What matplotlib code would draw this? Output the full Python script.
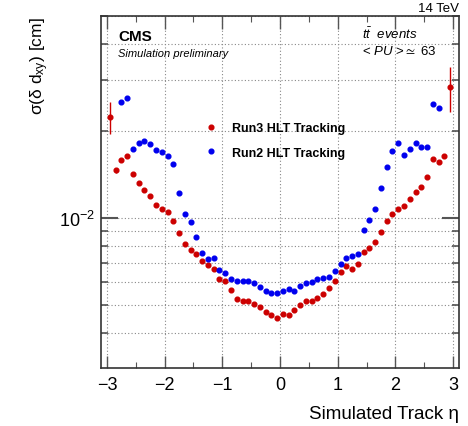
"""
Track transverse impact parameter resolution vs simulated eta,
Run3 vs Run2 HLT tracking (CMS simulation, ttbar, <PU> ~ 63).
"""

import numpy as np
import matplotlib
matplotlib.use("Agg")
import matplotlib.pyplot as plt
from matplotlib.lines import Line2D
from matplotlib.ticker import FixedLocator, MultipleLocator, NullFormatter, LogLocator

plt.rcParams["font.family"] = ["Liberation Sans", "DejaVu Sans"]
plt.rcParams["mathtext.fontset"] = "custom"
plt.rcParams["mathtext.rm"] = "Liberation Sans"
plt.rcParams["mathtext.it"] = "Liberation Sans:italic"
plt.rcParams["mathtext.bf"] = "Liberation Sans:bold"
plt.rcParams["mathtext.fallback"] = "stixsans"

# bin centres in eta (bin width 0.1)
eta = [-2.95, -2.85, -2.75, -2.65, -2.55, -2.45, -2.35, -2.25, -2.15, -2.05,
       -1.95, -1.85, -1.75, -1.65, -1.55, -1.45, -1.35, -1.25, -1.15, -1.05,
       -0.95, -0.85, -0.75, -0.65, -0.55, -0.45, -0.35, -0.25, -0.15, -0.05,
       0.05, 0.15, 0.25, 0.35, 0.45, 0.55, 0.65, 0.75, 0.85, 0.95,
       1.05, 1.15, 1.25, 1.35, 1.45, 1.55, 1.65, 1.75, 1.85, 1.95,
       2.05, 2.15, 2.25, 2.35, 2.45, 2.55, 2.65, 2.75, 2.85, 2.95]

# sigma(delta d_xy) [cm]
run3 = [0.0224, 0.01466, 0.01588, 0.01639, 0.01416, 0.01318, 0.01247, 0.01195, 0.01112, 0.01074,
        0.01046, 0.00974, 0.00890, 0.00815, 0.00775, 0.00749, 0.00712, 0.00686, 0.00666, 0.00614,
        0.00604, 0.00562, 0.00525, 0.00518, 0.00515, 0.00504, 0.00493, 0.00474, 0.00463, 0.00451,
        0.00466, 0.00463, 0.00479, 0.00500, 0.00518, 0.00515, 0.00529, 0.00545, 0.00573, 0.00604,
        0.00649, 0.00684, 0.00665, 0.00695, 0.00761, 0.00786, 0.00824, 0.00895, 0.00976, 0.01032,
        0.01074, 0.01103, 0.01166, 0.01227, 0.01284, 0.01382, 0.01604, 0.01566, 0.01639, 0.0283]
run3_err = [0.0029, 0.0003, 0, 0, 0, 0, 0, 0, 0, 0,
            0, 0, 0, 0, 0, 0, 0, 0, 0, 0,
            0, 0, 0, 0, 0, 0, 0, 0, 0, 0,
            0, 0, 0, 0, 0, 0, 0, 0, 0, 0,
            0, 0, 0, 0, 0, 0, 0, 0, 0, 0,
            0, 0, 0, 0, 0, 0, 0, 0, 0.0003, 0.0051]

run2 = [np.nan, np.nan, 0.02527, 0.02601, 0.01737, 0.01822, 0.01851, 0.01803, 0.01723, 0.01697,
        0.01639, 0.01538, 0.01224, 0.01035, 0.00966, 0.00857, 0.00755, 0.00723, 0.00725, 0.00661,
        0.00647, 0.00618, 0.00607, 0.00607, 0.00607, 0.00596, 0.00577, 0.00559, 0.00550, 0.00551,
        0.00558, 0.00567, 0.00561, 0.00580, 0.00596, 0.00602, 0.00618, 0.00621, 0.00625, 0.00656,
        0.00695, 0.00727, 0.00741, 0.00751, 0.00906, 0.00984, 0.01074, 0.01267, 0.01505, 0.01710,
        0.01822, 0.01652, 0.01737, 0.01813, 0.01760, 0.01760, 0.02487, 0.02397, np.nan, np.nan]
run2_err = [0, 0, 0, 0, 0, 0, 0, 0, 0, 0,
            0, 0, 0, 0, 0, 0, 0, 0, 0, 0,
            0, 0, 0, 0, 0, 0, 0, 0, 0, 0,
            0, 0, 0, 0, 0, 0, 0, 0, 0, 0,
            0, 0, 0, 0, 0, 0, 0, 0, 0, 0,
            0, 0, 0, 0, 0, 0, 0, 0.0004, 0, 0]

x_ticks = [-3, -2, -1, 0, 1, 2, 3]
x_tick_labels = ["\u22123", "\u22122", "\u22121", "0", "1", "2", "3"]

RED = "#cc0000"
BLUE = "#0000ee"
W, H = 468, 427

fig = plt.figure(figsize=(W / 100, H / 100), dpi=100)
ax = fig.add_axes([101 / W, 1 - 369 / H, 358 / W, 352 / H])

ax.errorbar(eta, run3, yerr=run3_err, fmt="o", ms=3.4, color=RED,
            ecolor=RED, elinewidth=1.0, capsize=0, zorder=3)
ax.errorbar(eta, run2, yerr=run2_err, fmt="o", ms=3.4, color=BLUE,
            ecolor=BLUE, elinewidth=1.0, capsize=0, zorder=3)

ax.set_yscale("log")
ax.set_xlim(-3.104, 3.104)
ax.set_ylim(3.03e-3, 5.0e-2)

ax.xaxis.set_major_locator(FixedLocator(x_ticks))
ax.set_xticklabels(x_tick_labels)
ax.xaxis.set_minor_locator(MultipleLocator(0.5))
ax.yaxis.set_major_locator(LogLocator(base=10, numticks=10))
ax.yaxis.set_minor_locator(LogLocator(base=10, subs=np.arange(2, 10), numticks=20))
ax.yaxis.set_minor_formatter(NullFormatter())

ax.tick_params(which="both", direction="in", top=True, right=True, color="#555555")
ax.tick_params(axis="x", which="major", length=9, width=1.0, labelsize=13, pad=6)
ax.tick_params(axis="x", which="minor", length=4.5, width=0.8)
ax.tick_params(axis="y", which="major", length=12, width=1.5, labelsize=13, pad=4)
ax.tick_params(axis="y", which="minor", length=5, width=1.2)

ax.grid(True, axis="x", which="major", color="#888888", linestyle=(0, (1, 2)), linewidth=0.8)
ax.grid(True, axis="y", which="both", color="#888888", linestyle=(0, (1, 2)), linewidth=0.8)
ax.set_axisbelow(True)

for s in ax.spines.values():
    s.set_color("#333333")
    s.set_linewidth(1.2)

handles = [Line2D([], [], marker="o", ls="none", ms=3.4, color=RED),
           Line2D([], [], marker="o", ls="none", ms=3.4, color=BLUE)]
ax.legend(handles, ["Run3 HLT Tracking", "Run2 HLT Tracking"],
          loc="upper left", bbox_to_anchor=(0.2886, 0.698), frameon=False,
          prop={"weight": "bold", "size": 9}, handlelength=1.0, handletextpad=1.2,
          borderpad=0, borderaxespad=0, labelspacing=1.0)

# labels and annotations (pixel positions from the reference)
fig.text(459 / W, 1 - 415 / H, "Simulated Track \u03b7", ha="right", va="center",
         fontsize=13.5)
fig.text(39.5 / W, 1 - 17 / H, "\u03c3(\u03b4 d$_{\\mathrm{xy}}$) [cm]", rotation=90,
         ha="center", va="top", fontsize=12.5)
fig.text(118 / W, 1 - 36.7 / H, "CMS", ha="left", va="center", fontsize=11, weight="bold")
fig.text(118 / W, 1 - 54 / H, "Simulation preliminary", ha="left", va="center",
         fontsize=8, style="italic")
fig.text(362 / W, 1 - 34.5 / H, "$t\\bar{t}$  events", ha="left", va="center",
         fontsize=9.5, style="italic")
fig.text(362 / W, 1 - 51.7 / H, "< $PU$ >$\\simeq$ 63", ha="left", va="center", fontsize=9.5)
fig.text(459 / W, 1 - 8.5 / H, "14 TeV", ha="right", va="center", fontsize=9.5)

fig.savefig("out.png", dpi=100)
